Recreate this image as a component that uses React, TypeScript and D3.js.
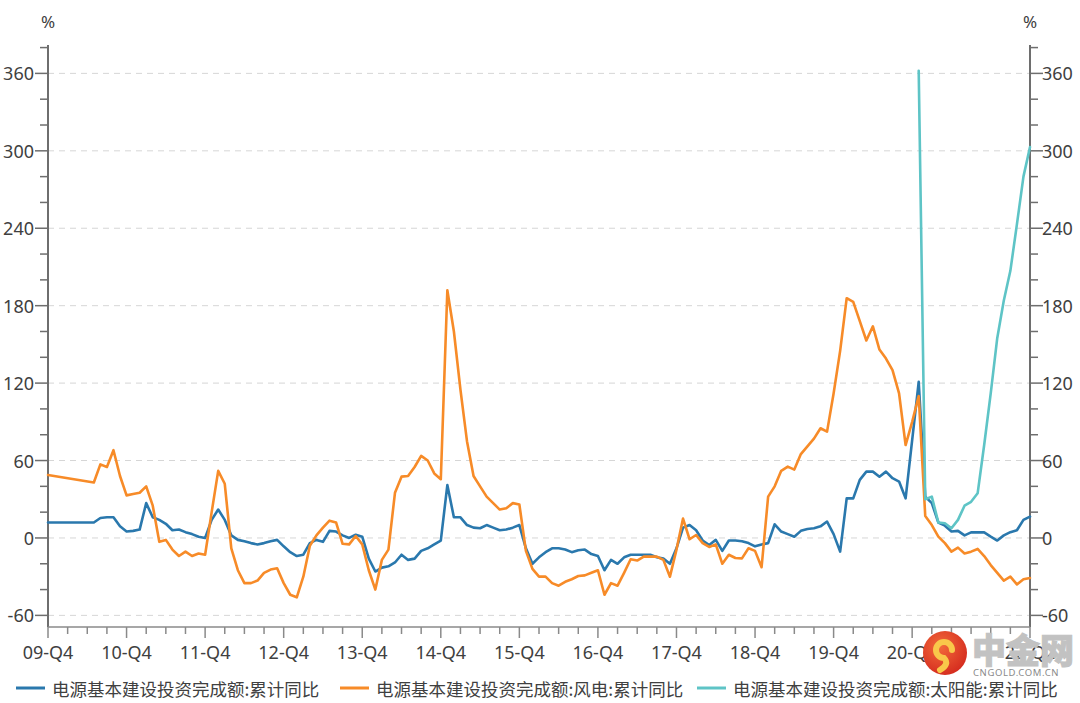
import React from 'react';
import * as d3 from 'd3';

// month index 0 = 2009-12, one step per month, last = 2022-06
const monthCount = 151;
const xTickIndex = [0, 12, 24, 36, 48, 60, 72, 84, 96, 108, 120, 132, 150];
const xTickLabels = ['09-Q4', '10-Q4', '11-Q4', '12-Q4', '13-Q4', '14-Q4', '15-Q4', '16-Q4', '17-Q4', '18-Q4', '19-Q4', '20-Q4', '22-Q2'];
const yTicks = [-60, 0, 60, 120, 180, 240, 300, 360];

const seriesNames = [
  '电源基本建设投资完成额:累计同比',
  '电源基本建设投资完成额:风电:累计同比',
  '电源基本建设投资完成额:太阳能:累计同比',
];
const seriesColors = ['#2a78ad', '#f78b28', '#5ec4c6'];

const powerValues: (number | null)[] = [
  12, null, null, null, null, null, null, 12, 15.5, 16, 16, 9, 5, 5.5, 6.5, 27, 16, 14, 11, 6, 6.5, 4.5, 3, 1, 0,
  14, 22, 14, 2, -1.5, -2.5, -4, -5, -4, -2.5, -1.5, -6.5,
  -11, -14, -13, -4, -1.5, -3, 5.5, 5, 2, 0, 2.5, 1,
  -16, -26, -23, -22, -19, -13, -17, -16, -10, -8, -5, -2,
  41, 16, 16, 10, 8, 7.5, 10, 8, 6, 6.5, 8, 10,
  -8, -20, -15, -11, -8, -8, -9, -11, -9.5, -9, -12.5, -14,
  -25, -17, -20, -15, -13, -13, -13, -13, -15, -16, -20, -8,
  8, 10, 6, -2, -5.5, -1.5, -10, -2, -2, -2.6, -4, -6.5,
  -5, -4, 10.6, 5, 3, 1, 5.5, 7, 7.5, 9, 12.7, 3,
  -10.6, 30.7, 30.7, 45, 51.4, 51.4, 47.5, 51.4, 46.3, 43.7, 30.7, null,
  121, 32, 27, 12, 9.5, 5, 5.5, 2, 4.3, 4.3, 4.3, 1,
  -2, 2, 4.5, 6, 14, 16.5,
];

const windValues: (number | null)[] = [
  48.8, null, null, null, null, null, null, 43, 57, 55, 68, 48, 33, 34, 35, 40, 25, -3, -1.5, -9, -14, -10.6, -14, -12, -13,
  20, 52, 42, -8, -25, -35, -35, -33, -27, -24.5, -23.5, -35,
  -44, -46, -30, -6, 2, 8, 13.4, 12, -4.5, -5, 1.5, -5,
  -25, -40, -17, -9, 35, 47.5, 48, 55, 63.6, 60, 50, 45.5,
  192, 160, 115, 75, 48, 40, 32, 27, 22, 23, 27, 26,
  -10, -24, -30, -30, -35, -37, -34, -32, -29.5, -29, -27, -25,
  -44, -35, -37, -27, -16.5, -17.5, -14.5, -14.5, -14.5, -17, -30, -9,
  15, -1, 2.3, -4, -7, -5, -20, -13, -15.5, -15.8, -8, -10,
  -22.7, 32, 40, 52, 55.3, 53, 65, 71, 77, 85, 82.4, 112,
  145, 185.8, 183, 168, 153, 164, 146, 139, 130, 112, 72, 90,
  110, 17, 10, 1, -4, -10.6, -7.5, -12, -10.6, -8.5, -14, -21,
  -27, -33, -30, -36, -32, -31,
];

// solar series starts at month index 133
const solarStart = 133;
const solarValues = [362, 30, 32, 12, 11.4, 7.5, 14, 25, 28, 34.6, 72, 112, 155, 184, 207, 243, 280, 303];

const W = 1080;
const H = 703;
const left = 48;
const right = 1030;
const top = 45;
const bottom = 627;

const latin = '"Noto Sans", "Noto Sans CJK SC", sans-serif';
const cjk = '"Noto Sans CJK SC", "Noto Sans", sans-serif';

const App: React.FC = () => {
  const x = d3.scaleLinear().domain([0, monthCount - 1]).range([left, right]);
  const y = d3.scaleLinear().domain([-69, 382]).range([bottom, top]);

  const line = d3
    .line<[number, number]>()
    .x(d => x(d[0]))
    .y(d => y(d[1]));

  const toPoints = (vals: (number | null)[], offset = 0) =>
    vals
      .map((v, i) => [i + offset, v] as [number, number | null])
      .filter(d => d[1] !== null) as [number, number][];

  const series = [toPoints(powerValues), toPoints(windValues), toPoints(solarValues, solarStart)];

  const minorY = d3.range(-60, 381, 20);
  const quarterTicks = d3.range(0, monthCount, 3);

  return (
    <div style={{ position: 'absolute', left: 0, top: 0 }}>
      <svg width={W} height={H} style={{ display: 'block', background: '#fff' }}>
        {/* grid */}
        {yTicks.map(t => (
          <line
            key={'g' + t}
            x1={left}
            x2={right}
            y1={y(t)}
            y2={y(t)}
            stroke="#d6d6d6"
            strokeWidth={1}
            strokeDasharray="6,5"
          />
        ))}

        {/* left axis */}
        <line x1={left} x2={left} y1={top} y2={bottom} stroke="#6e6e6e" strokeWidth={2} />
        {minorY.map(t => (
          <line
            key={'lt' + t}
            x1={left - (t % 60 === 0 ? 13 : 8)}
            x2={left}
            y1={y(t)}
            y2={y(t)}
            stroke="#6e6e6e"
            strokeWidth={1.5}
          />
        ))}
        {yTicks.map(t => (
          <text
            key={'ll' + t}
            x={left - 14}
            y={y(t)}
            textAnchor="end"
            dominantBaseline="central"
            fontFamily={latin}
            fontSize={18}
            fill="#404040"
          >
            {t}
          </text>
        ))}
        <text x={left} y={21} textAnchor="middle" dominantBaseline="central" fontFamily={latin} fontSize={17} fill="#404040">
          %
        </text>

        {/* right axis */}
        <line x1={right} x2={right} y1={top} y2={bottom} stroke="#6e6e6e" strokeWidth={2} />
        {minorY.map(t => (
          <line
            key={'rt' + t}
            x1={right}
            x2={right + (t % 60 === 0 ? 13 : 8)}
            y1={y(t)}
            y2={y(t)}
            stroke="#6e6e6e"
            strokeWidth={1.5}
          />
        ))}
        {yTicks.map(t => (
          <text
            key={'rl' + t}
            x={right + 12}
            y={y(t)}
            textAnchor="start"
            dominantBaseline="central"
            fontFamily={latin}
            fontSize={18}
            fill="#404040"
          >
            {t}
          </text>
        ))}
        <text x={right} y={21} textAnchor="middle" dominantBaseline="central" fontFamily={latin} fontSize={17} fill="#404040">
          %
        </text>

        {/* bottom axis */}
        <line x1={left} x2={right} y1={bottom} y2={bottom} stroke="#8a8a8a" strokeWidth={1.5} />
        {quarterTicks.map(q => (
          <line
            key={'xt' + q}
            x1={x(q)}
            x2={x(q)}
            y1={bottom}
            y2={bottom + (xTickIndex.includes(q) ? 11 : 7)}
            stroke="#8a8a8a"
            strokeWidth={1.5}
          />
        ))}
        {xTickIndex.map((q, i) => (
          <text
            key={'xl' + q}
            x={x(q)}
            y={652}
            textAnchor="middle"
            dominantBaseline="central"
            fontFamily={latin}
            fontSize={18}
            fill="#404040"
          >
            {xTickLabels[i]}
          </text>
        ))}

        {/* series */}
        {series.map((pts, i) => (
          <path
            key={'s' + i}
            d={line(pts) ?? ''}
            fill="none"
            stroke={seriesColors[i]}
            strokeWidth={2.6}
            strokeLinejoin="round"
            strokeLinecap="round"
          />
        ))}

        {/* legend */}
        {[16, 340, 697].map((lx, i) => (
          <g key={'lg' + i}>
            <line x1={lx} x2={lx + 29} y1={688} y2={688} stroke={seriesColors[i]} strokeWidth={3} />
            <text
              x={lx + 36}
              y={688}
              dominantBaseline="central"
              fontFamily={cjk}
              fontSize={17.5}
              fill="#404040"
            >
              {seriesNames[i]}
            </text>
          </g>
        ))}

        {/* watermark */}
        <defs>
          <radialGradient id="wm" cx="40%" cy="35%" r="70%">
            <stop offset="0%" stopColor="#f26a3a" />
            <stop offset="100%" stopColor="#d42a1e" />
          </radialGradient>
        </defs>
        <g>
          <circle cx={945} cy={653} r={22} fill="url(#wm)" />
          <path
            d="M 952 650 A 8 8 0 1 0 944 658 Q 950 664 940 670"
            fill="none"
            stroke="#f9c84a"
            strokeWidth={6}
            strokeLinecap="round"
          />
          <text x={972} y={663} fontFamily={cjk} fontSize={34} fontWeight="900" fill="#c2c2c2" stroke="#c2c2c2" strokeWidth={1}>
            中金网
          </text>
          <text x={973} y={676} fontFamily={latin} fontSize={9.5} fill="#8a8a8a" letterSpacing={0.6}>
            CNGOLD.COM.CN
          </text>
        </g>
      </svg>
    </div>
  );
};

export default App;
